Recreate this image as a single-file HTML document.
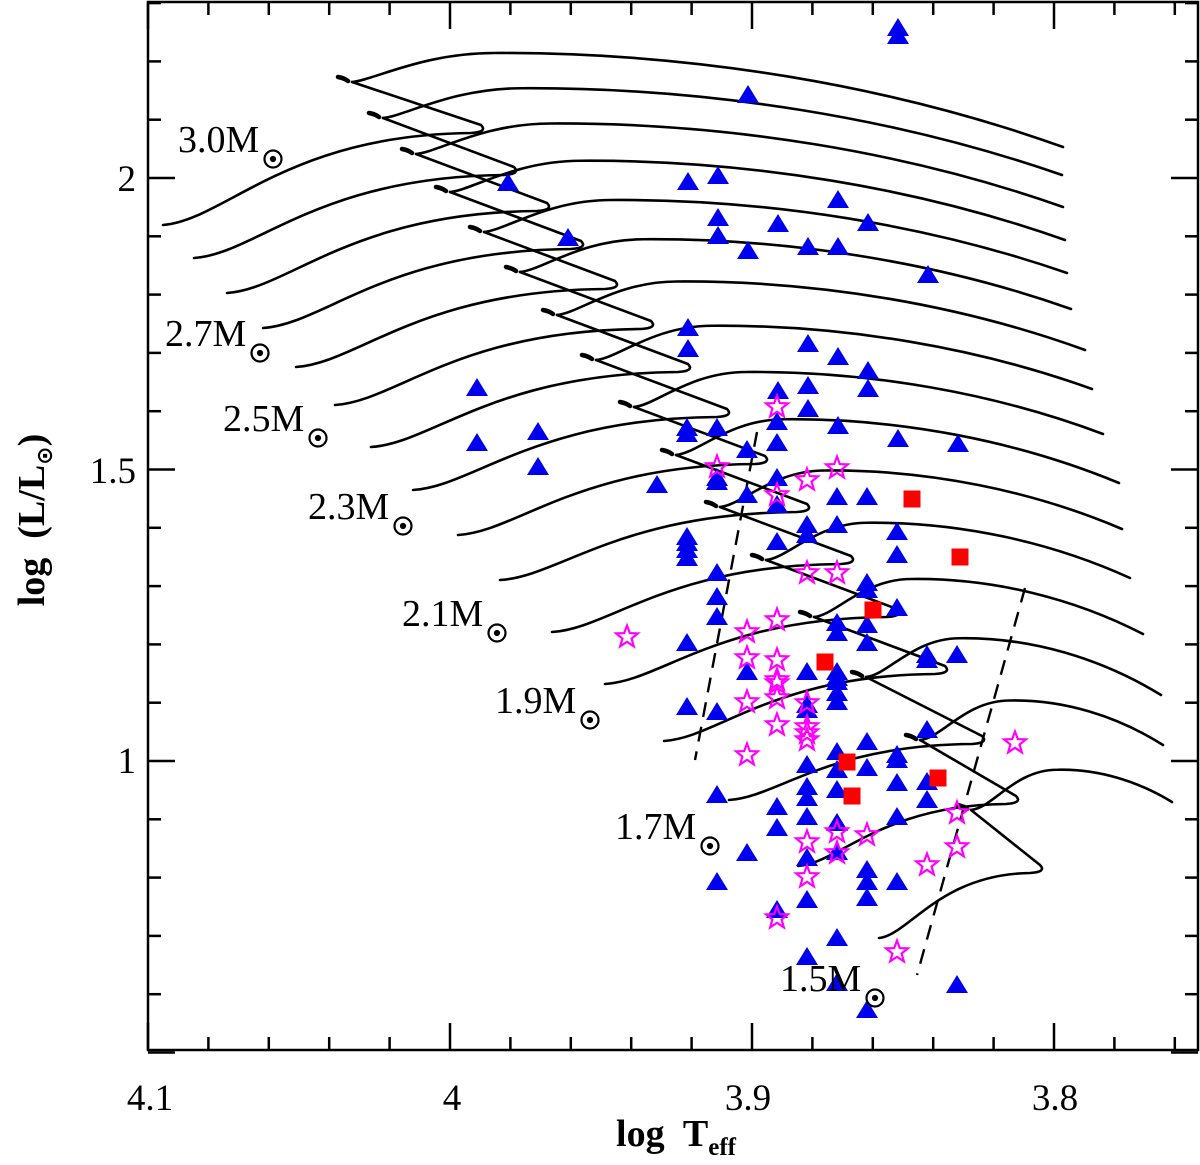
<!DOCTYPE html>
<html><head><meta charset="utf-8"><style>
html,body{margin:0;padding:0;background:#fff;}
svg{display:block;}
text{font-family:"Liberation Serif","DejaVu Serif",serif;fill:#000;}
</style></head><body>
<svg id="s" width="1200" height="1165" xmlns="http://www.w3.org/2000/svg">
<rect x="0" y="0" width="1200" height="1165" fill="#fff"/>
<g id="tracks" fill="none" stroke="#000" stroke-width="2.6" stroke-linecap="round" stroke-linejoin="round"></g>
<g id="dash" fill="none" stroke="#000" stroke-width="2.4" stroke-dasharray="15,10">
<line x1="757" y1="432" x2="695" y2="760"/>
<line x1="1025" y1="588" x2="917" y2="975"/>
</g>
<g id="marks"></g>
<g id="axes" stroke="#000" stroke-width="2.5" fill="none"></g>
<g font-size="38">
<text x="178" y="152">3.0M</text>
<text x="165" y="346">2.7M</text>
<text x="223" y="431">2.5M</text>
<text x="308" y="519">2.3M</text>
<text x="402" y="626">2.1M</text>
<text x="495" y="713">1.9M</text>
<text x="615" y="839">1.7M</text>
<text x="780" y="991">1.5M</text>
</g>
<g id="suns" fill="none" stroke="#000" stroke-width="2.2"></g>
<g font-size="37">
<text x="150" y="1110" text-anchor="middle">4.1</text>
<text x="452" y="1110" text-anchor="middle">4</text>
<text x="748" y="1110" text-anchor="middle">3.9</text>
<text x="1055" y="1110" text-anchor="middle">3.8</text>
<text x="136" y="191" text-anchor="end">2</text>
<text x="136" y="483" text-anchor="end">1.5</text>
<text x="136" y="773" text-anchor="end">1</text>
</g>
<text x="676" y="1146" text-anchor="middle" font-size="38" font-weight="bold" style="white-space:pre">log  T<tspan font-size="25" dy="9">eff</tspan></text>
<g transform="translate(44,520) rotate(-90)">
<text x="0" y="0" text-anchor="middle" font-size="38" font-weight="bold" style="white-space:pre">log  (L/L<tspan font-size="22" dy="8" font-family="DejaVu Sans">⊙</tspan><tspan dy="-8">)</tspan></text>
</g>
</svg>
<script>
(function(){
var NS="http://www.w3.org/2000/svg";
function el(tag,attrs,parent){var e=document.createElementNS(NS,tag);for(var k in attrs)e.setAttribute(k,attrs[k]);parent.appendChild(e);return e;}
var S=[[163,225],[194,258],[227,293],[263,328],[296,367],[335,405],[371,447],[413,490],[458,535],[500,580],[552,632],[605,684],[664,741],[729,800],[798,866],[879,938]];
var C=[[338,77],[369,113],[402,149],[436,187],[470,227],[506,267],[543,310],[582,355],[620,402],[662,450],[706,502],[752,555],[800,612],[852,672],[906,735],[957,805]];
var E=[[1063,147],[1062,175],[1063,207],[1065,240],[1067,273],[1071,309],[1085,350],[1092,389],[1103,434],[1119,483],[1122,529],[1130,578],[1143,634],[1161,695],[1163,745],[1172,802]];
var tg=document.getElementById('tracks');
for(var i=0;i<16;i++){
 var s=S[i],c=C[i],e=E[i];
 var dT=i<=12?[145,58]:[[130,68],[110,65],[83,64]][i-13];
 if(i==0)dT=[143,52];
 var T=[c[0]+dT[0],c[1]+dT[1]];
 var P=[c[0]+156-i*3.7,c[1]-24-i*0.75];
 var B1=[c[0]+14,c[1]+5];
 var dx=T[0]-10-s[0],h=s[1]-(T[1]+4);
 var Tl=[T[0]-10,T[1]+4];
 var d="M"+s[0]+","+s[1]+" C"+(s[0]+0.2*dx)+","+(s[1]-0.05*h)+" "+(s[0]+0.4*dx)+","+(Tl[1]+0.02*h)+" "+Tl[0]+","+Tl[1]
  +" Q"+(T[0]+7)+","+(T[1]+3)+" "+T[0]+","+(T[1]-4)+" L"+B1[0]+","+B1[1];
 el('path',{d:d},tg);
 el('path',{d:"M"+c[0]+","+c[1]+" Q"+(c[0]+6)+","+(c[1]+1)+" "+(c[0]+10)+","+(c[1]+4),'stroke-width':4.5},tg);
 var ex=e[0]-P[0],ey=e[1]-P[1];
 var d2="M"+B1[0]+","+B1[1]+" C"+(B1[0]+22)+","+(B1[1]-2)+" "+(P[0]-0.5*(P[0]-B1[0]))+","+P[1]+" "+P[0]+","+P[1]
  +" C"+(P[0]+0.35*ex)+","+(P[1]-1)+" "+(P[0]+0.7*ex)+","+(P[1]+0.35*ey)+" "+e[0]+","+e[1];
 el('path',{d:d2},tg);
}
var ax=document.getElementById('axes');
el('rect',{x:148,y:2,width:1050,height:1048},ax);
function X(t){return 148+(4.1-t)*3020;}
function Y(l){return 178+(2-l)*583;}
for(var k=0;k<=18;k++){var t=4.1-k*0.02;var x=X(t);if(x>1197)break;var maj=(k%5==0);var L=maj?27:13;
 el('line',{x1:x,y1:1050,x2:x,y2:1050-L},ax);el('line',{x1:x,y1:2,x2:x,y2:2+L},ax);}
for(var k=0;k<=18;k++){var l=0.5+k*0.1;var y=Y(l);if(y<3)break;var maj=(k%5==0);var L=maj?27:13;
 el('line',{x1:148,y1:y,x2:148+L,y2:y},ax);el('line',{x1:1198,y1:y,x2:1198-L,y2:y},ax);}
var sg=document.getElementById('suns');
var suns=[[273,159],[260,353],[318,438],[403,526],[497,633],[590,720],[710,846],[875,998]];
suns.forEach(function(p){el('circle',{cx:p[0],cy:p[1],r:8.5},sg);el('circle',{cx:p[0],cy:p[1],r:2,fill:'#000'},sg);});
var mg=document.getElementById('marks');
var tri=[[898,28],[898,36],[748,95],[508,183],[568,238],[688,182],[718,176],[718,218],[718,236],[778,224],[838,200],[868,223],[808,247],[838,247],[748,251],[928,275],[688,328],[688,349],[808,344],[838,357],[868,371],[868,389],[778,391],[808,386],[808,409],[838,426],[898,439],[958,444],[477,388],[477,443],[538,432],[538,467],[657,485],
[777,422],[687,428],[687,434],[717,428],[777,443],[747,450],[717,478],[717,482],[747,495],[777,478],[777,505],[837,497],[867,497],[807,525],[807,535],[837,525],[897,532],[897,555],[777,542],[687,537],[687,543],[687,550],[687,558],[717,573],[717,597],[717,617],[687,643],[867,583],[867,590],[897,608],[837,623],[837,633],[867,625],[867,643],[927,655],[927,660],[957,655],[747,672],[807,672],[837,672],[837,678],
[687,707],[717,712],[807,705],[807,710],[837,682],[837,693],[837,702],[927,730],[867,742],[837,752],[897,755],[897,760],[807,765],[837,770],[867,768],[897,783],[927,782],[927,800],[717,795],[807,787],[807,798],[837,790],[777,807],[777,828],[807,817],[837,823],[897,817],[837,852],[807,858],[747,853],[867,870],[867,882],[897,882],[867,898],[807,900],[717,882],[777,910],[837,938],[807,957],[837,983],[867,1010],[957,985]];
tri.forEach(function(p){var x=p[0],y=p[1];el('polygon',{points:(x-11)+","+(y+8)+" "+(x+11)+","+(y+8)+" "+x+","+(y-10),fill:'#0000ee'},mg);});
var st=[[777,407],[717,467],[807,480],[837,468],[777,495],[807,573],[837,573],[627,637],[747,632],[777,620],[747,658],[777,660],[777,680],[747,702],[777,698],[807,703],[777,683],[777,725],[807,727],[807,733],[807,740],[747,755],[807,842],[837,832],[837,853],[867,835],[807,877],[777,918],[897,952],[927,865],[957,847],[957,813],[1015,743]];
st.forEach(function(p){var pts=[];for(var j=0;j<10;j++){var r=j%2?4.8:11.5;var a=-Math.PI/2+j*Math.PI/5;pts.push((p[0]+r*Math.cos(a)).toFixed(1)+","+(p[1]+r*Math.sin(a)).toFixed(1));}
 el('polygon',{points:pts.join(" "),fill:'none',stroke:'#ff00ff','stroke-width':2.2},mg);});
var sq=[[912,499],[960,557],[873,610],[825,662],[847,762],[852,796],[938,778]];
sq.forEach(function(p){el('rect',{x:p[0]-8.5,y:p[1]-8.5,width:17,height:17,fill:'#ff0000'},mg);});
})();
</script>
</body></html>
